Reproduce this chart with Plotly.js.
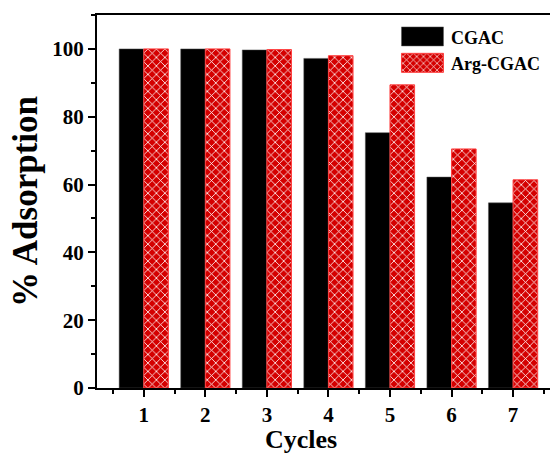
<!DOCTYPE html>
<html>
<head>
<meta charset="utf-8">
<script src="https://cdn.plot.ly/plotly-3.0.1.min.js"></script>
<style>html,body{margin:0;padding:0;background:#fff;}#chart{width:550px;height:456px;}</style>
</head>
<body>
<div id="chart"></div>
<script>
const cycles = [1, 2, 3, 4, 5, 6, 7];
const cgac = [100, 100, 99.7, 97.2, 75.3, 62.2, 54.6];
const argCgac = [100, 100, 99.8, 98.0, 89.4, 70.5, 61.4];
const yTicks = [0, 20, 40, 60, 80, 100];
const seriesNames = ['CGAC', 'Arg-CGAC'];

const serif = 'Liberation Serif, Times New Roman, serif';

const traces = [
  {
    type: 'bar', x: cycles, y: cgac, name: seriesNames[0],
    marker: {color: '#000000', line: {color: '#555', width: 0.5}}
  },
  {
    type: 'bar', x: cycles, y: argCgac, name: seriesNames[1],
    marker: {
      color: '#d40000',
      line: {color: '#ff4040', width: 1},
      pattern: {shape: 'x', fgcolor: '#ffffff', bgcolor: '#d40000', size: 6, solidity: 0.25, fillmode: 'replace'}
    }
  }
];

const layout = {
  width: 550, height: 456,
  margin: {l: 97, r: 0, t: 15, b: 68},
  paper_bgcolor: '#ffffff', plot_bgcolor: '#ffffff',
  barmode: 'group', bargap: 0.2, bargroupgap: 0,
  font: {family: serif, color: '#000'},
  showlegend: true,
  legend: {
    x: 0.66, y: 0.99, xanchor: 'left', yanchor: 'top',
    bgcolor: 'rgba(0,0,0,0)', borderwidth: 0,
    font: {family: serif, size: 18, weight: 'bold', color: '#000'},
    itemwidth: 45, tracegroupgap: 4
  },
  xaxis: {
    range: [0.24, 7.6], tickvals: cycles, ticktext: cycles.map(String),
    showline: true, linewidth: 2, linecolor: '#000', mirror: true,
    ticks: 'outside', ticklen: 7, tickwidth: 2, tickcolor: '#000',
    minor: {ticks: 'outside', tick0: 0.5, dtick: 1, ticklen: 4, tickwidth: 2, tickcolor: '#000'},
    showgrid: false, zeroline: false,
    tickfont: {family: serif, size: 21, weight: 'bold'}
  },
  yaxis: {
    range: [0, 110], tickvals: yTicks,
    showline: true, linewidth: 2, linecolor: '#000', mirror: false,
    ticks: 'outside', ticklen: 7, tickwidth: 2, tickcolor: '#000',
    minor: {ticks: 'outside', dtick: 10, ticklen: 4, tickwidth: 2, tickcolor: '#000'},
    showgrid: false, zeroline: false,
    tickfont: {family: serif, size: 21, weight: 'bold'},
    title: {text: '% Adsorption', font: {family: serif, size: 35, weight: 'bold'}, standoff: 4}
  },
  annotations: [{
    text: 'Cycles', xref: 'paper', yref: 'paper', x: 0.45, y: -0.182,
    xanchor: 'center', yanchor: 'bottom', showarrow: false,
    font: {family: serif, size: 26, weight: 'bold', color: '#000'}
  }]
};

Plotly.newPlot('chart', traces, layout, {displayModeBar: false, staticPlot: true}).then(function () {
  // enlarge legend swatches to match the reference boxes
  document.querySelectorAll('.legend .legendpoints path').forEach(function (p) {
    p.setAttribute('d', 'M20,9H-22V-10H20Z');
  });
});
</script>
</body>
</html>
